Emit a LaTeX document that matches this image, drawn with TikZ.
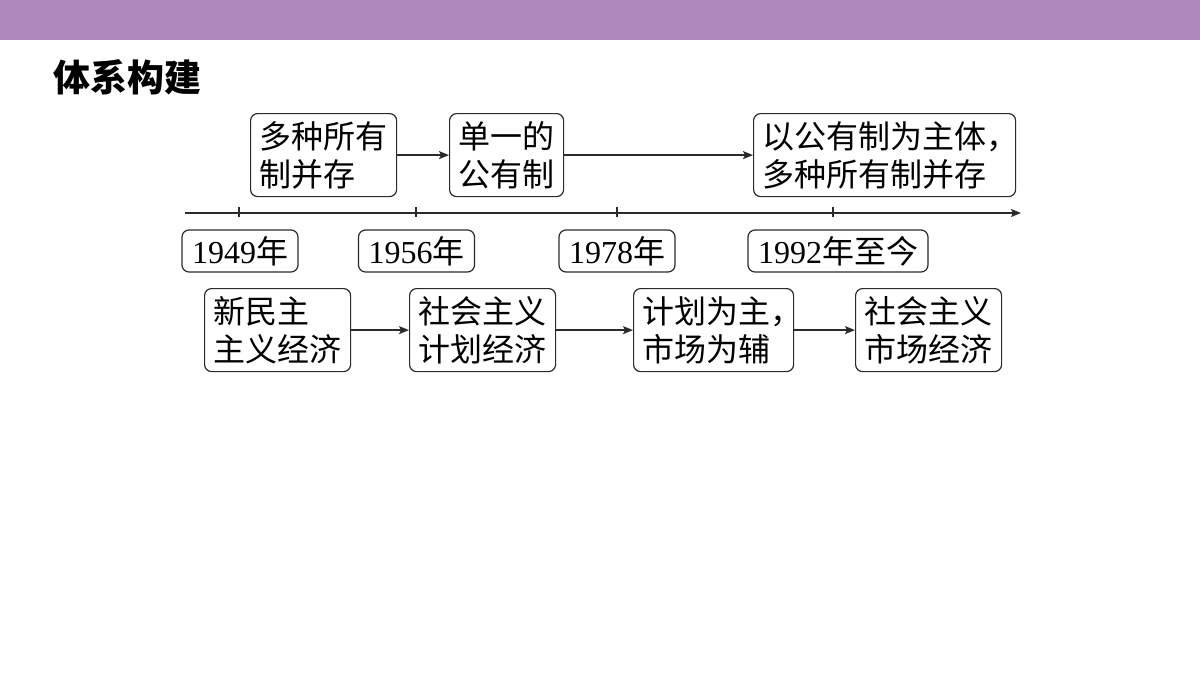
\documentclass[tikz,border=0pt]{standalone}
\usepackage{fontspec}
\usepackage{tikz}
\usepackage{xcolor}
\usetikzlibrary{arrows.meta,positioning}
\setmainfont{Liberation Serif}
\newfontfamily\cjk{Noto Sans CJK SC}
\definecolor{band}{HTML}{AE8ABC}
\definecolor{ink}{HTML}{2B2B2B}
\tikzset{
  stage/.style={draw=ink, rounded corners=7pt, line width=1.2pt, align=left,
                anchor=north west, minimum height=83pt, inner xsep=9pt, inner ysep=0pt,
                font=\cjk\fontsize{32}{38}\selectfont},
  yearbox/.style={draw=ink, rounded corners=7pt, line width=1.2pt,
                  minimum height=42pt, inner xsep=10pt, inner ysep=0pt,
                  font=\fontsize{32}{38}\selectfont},
  arrow/.style={-{Stealth[length=10pt,width=8pt,inset=2pt]}, line width=1.3pt, draw=ink}
}

\begin{document}
\begin{tikzpicture}[x=1pt,y=-1pt]
      \useasboundingbox (0,0) rectangle (1200,675);
      % header band + title
      \fill[band] (0,0) rectangle (1200,40);
      \node[font=\cjk\bfseries\fontsize{37}{40}\selectfont, anchor=west, inner sep=0pt] (title) at (53,77) {体系构建};

      % ownership (top row)
      \node[stage] (own1) at (250,113) {多种所有\\制并存};
      \node[stage] (own2) at (449,113) {单一的\\公有制};
      \node[stage, text width=244pt] (own3) at (753,113) {以公有制为主体，\\多种所有制并存};
      \draw[arrow] (own1) -- (own2);
      \draw[arrow] (own2) -- (own3);

      % time axis
      \coordinate (axisL) at (185,213);
      \coordinate (axisR) at (1021,213);
      \draw[arrow] (axisL) -- (axisR);
      \foreach \x in {239,416,617,833} {
        \draw[draw=ink,line width=1.1pt] (\x,207) -- (\x,217);
      }
      \node[yearbox] (y1949) at (240,251) {1949{\cjk 年}};
      \node[yearbox] (y1956) at (416.5,251) {1956{\cjk 年}};
      \node[yearbox] (y1978) at (617,251) {1978{\cjk 年}};
      \node[yearbox] (y1992) at (838,251) {1992{\cjk 年至今}};

      % economy (bottom row)
      \node[stage] (eco1) at (204,288) {新民主\\主义经济};
      \node[stage] (eco2) at (409,288) {社会主义\\计划经济};
      \node[stage, text width=142pt] (eco3) at (633,288) {计划为主，\\市场为辅};
      \node[stage] (eco4) at (855,288) {社会主义\\市场经济};
      \draw[arrow] (eco1) -- (eco2);
      \draw[arrow] (eco2) -- (eco3);
      \draw[arrow] (eco3) -- (eco4);
    \end{tikzpicture}
\end{document}
